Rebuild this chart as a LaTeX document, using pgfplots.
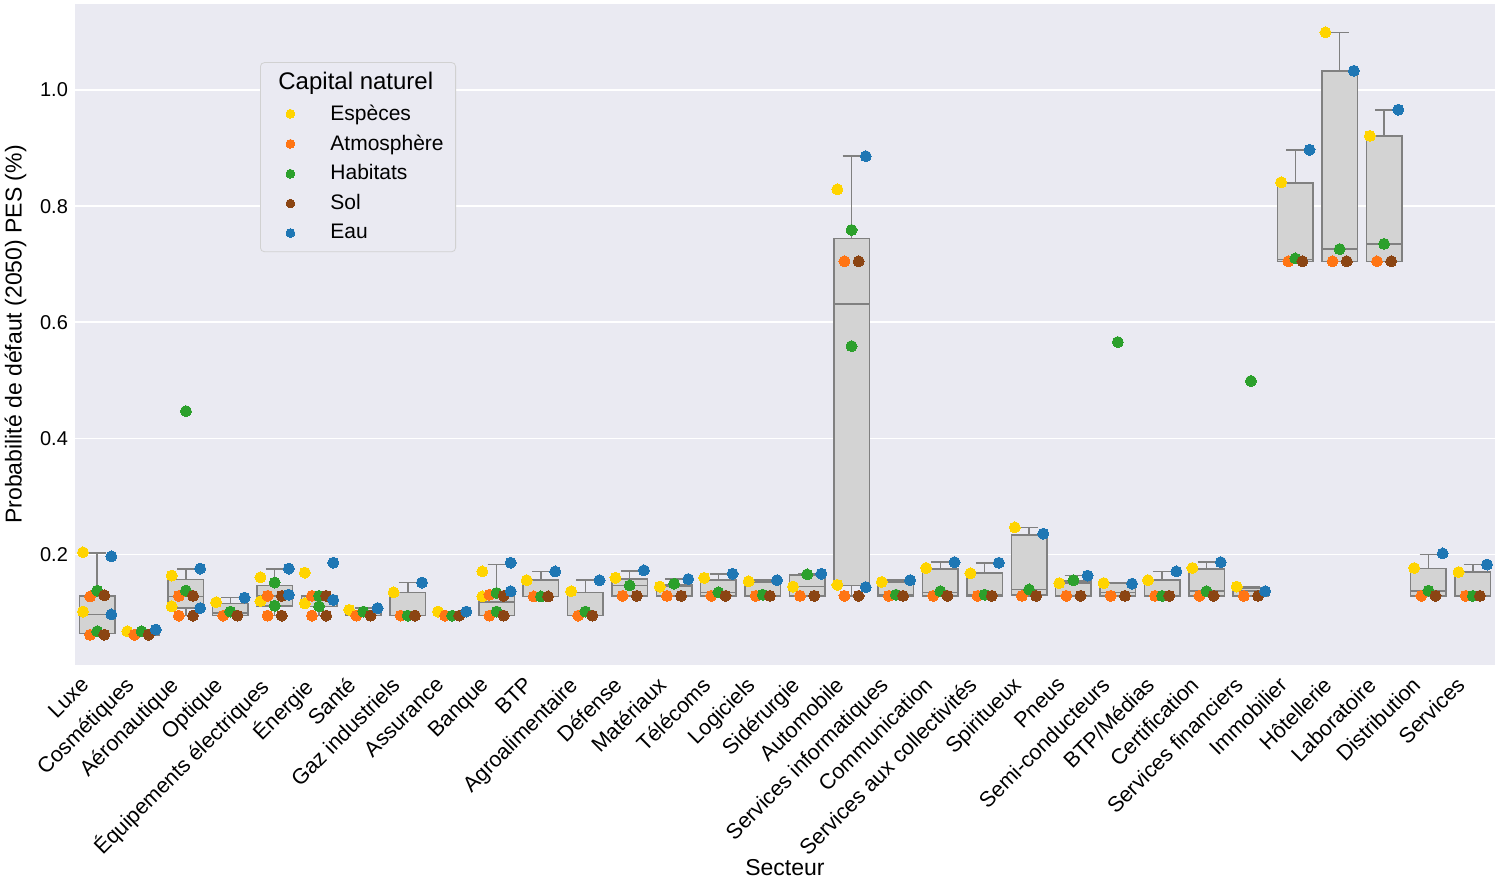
\documentclass[border=0pt]{standalone}
\usepackage{fontspec}
\setmainfont{Liberation Sans}
\usepackage{pgfplots}
\usepgfplotslibrary{statistics}
\pgfplotsset{compat=1.18}

\definecolor{bgc}{RGB}{234,234,242}
\definecolor{cyel}{RGB}{255,212,0}
\definecolor{cora}{RGB}{255,117,20}
\definecolor{cgre}{RGB}{44,160,44}
\definecolor{cbro}{RGB}{139,69,19}
\definecolor{cblu}{RGB}{31,119,180}
\definecolor{boxf}{RGB}{211,211,211}
\definecolor{boxe}{RGB}{128,128,128}

\newcommand{\bx}[6]{\addplot[forget plot, draw=boxe, fill=boxf, line width=0.8pt,
  boxplot prepared={draw direction=y, draw position=#1, lower whisker=#2, lower quartile=#3,
  median=#4, upper quartile=#5, upper whisker=#6, box extend=0.8, whisker extend=0.4}]
  coordinates {};}

\begin{document}
\begin{tikzpicture}
\begin{axis}[
  name=ax,
  scale only axis,
  width=710pt, height=330.5pt,
  xmin=-0.5, xmax=31.5, ymin=0.01, ymax=1.148,
  axis background/.style={fill=bgc},
  axis line style={draw=none},
  ymajorgrids, grid style={white, line width=0.8pt},
  major tick length=0pt,
  xtick={0,...,31},
  xticklabels={Luxe,Cosmétiques,Aéronautique,Optique,Équipements électriques,Énergie,Santé,Gaz industriels,Assurance,Banque,BTP,Agroalimentaire,Défense,Matériaux,Télécoms,Logiciels,Sidérurgie,Automobile,Services informatiques,Communication,Services aux collectivités,Spiritueux,Pneus,Semi-conducteurs,BTP/Médias,Certification,Services financiers,Immobilier,Hôtellerie,Laboratoire,Distribution,Services},
  xticklabel style={rotate=45, anchor=north east, font=\fontsize{10.8}{12}\selectfont, inner sep=1pt, xshift=-8.8pt, yshift=3.8pt},
  ytick={0.2,0.4,0.6,0.8,1.0},
  yticklabel style={font=\fontsize{10}{12}\selectfont},
  /pgf/number format/.cd, fixed, fixed zerofill, precision=1, assume math mode=true,
  /pgfplots/.cd,
  xlabel={Secteur},
  xlabel style={at={(axis description cs:0.5,0)}, anchor=center, yshift=-101.5pt},
  ylabel={Probabilité de défaut (2050) PES (\%)},
  label style={font=\fontsize{11.5}{13}\selectfont},
  legend style={at={(0.1303,0.912)}, anchor=north west, fill=bgc, draw=black!18,
    rounded corners=2pt, font=\fontsize{10.5}{12}\selectfont, row sep=1.8pt,
    inner xsep=4pt, inner ysep=3pt},
  legend cell align=left,
  legend image code/.code={\path[draw=none,fill=none] (0pt,-3pt) rectangle (29pt,3pt);
    \draw[mark repeat=2,mark phase=2,mark size=2.2pt,#1] plot coordinates {(0pt,0pt) (11pt,0pt) (22pt,0pt)};},
]
% boxes: pos, lw, q1, med, q3, uw
\bx{0}{0.062}{0.064}{0.097}{0.129}{0.203}
\bx{1}{0.062}{0.062}{0.066}{0.068}{0.071}
\bx{2}{0.095}{0.108}{0.128}{0.157}{0.175}
\bx{3}{0.095}{0.095}{0.100}{0.116}{0.126}
\bx{4}{0.095}{0.112}{0.129}{0.147}{0.175}
\bx{5}{0.095}{0.111}{0.122}{0.129}{0.129}
\bx{6}{0.095}{0.095}{0.100}{0.104}{0.108}
\bx{7}{0.095}{0.095}{0.095}{0.135}{0.152}
\bx{8}{0.095}{0.095}{0.095}{0.102}{0.102}
\bx{9}{0.095}{0.095}{0.118}{0.128}{0.183}
\bx{10}{0.128}{0.128}{0.128}{0.156}{0.171}
\bx{11}{0.095}{0.095}{0.095}{0.135}{0.156}
\bx{12}{0.129}{0.129}{0.147}{0.158}{0.172}
\bx{13}{0.129}{0.129}{0.145}{0.148}{0.158}
\bx{14}{0.129}{0.129}{0.135}{0.156}{0.167}
\bx{15}{0.129}{0.129}{0.129}{0.153}{0.156}
\bx{16}{0.129}{0.129}{0.145}{0.165}{0.167}
\bx{17}{0.129}{0.147}{0.631}{0.744}{0.886}
\bx{18}{0.129}{0.129}{0.131}{0.153}{0.156}
\bx{19}{0.129}{0.129}{0.135}{0.175}{0.187}
\bx{20}{0.129}{0.129}{0.131}{0.168}{0.186}
\bx{21}{0.129}{0.131}{0.140}{0.234}{0.247}
\bx{22}{0.129}{0.129}{0.151}{0.155}{0.164}
\bx{23}{0.129}{0.129}{0.135}{0.150}{0.151}
\bx{24}{0.129}{0.129}{0.129}{0.156}{0.171}
\bx{25}{0.129}{0.129}{0.137}{0.175}{0.187}
\bx{26}{0.129}{0.129}{0.137}{0.143}{0.145}
\bx{27}{0.705}{0.705}{0.708}{0.840}{0.897}
\bx{28}{0.705}{0.705}{0.726}{1.033}{1.099}
\bx{29}{0.705}{0.705}{0.735}{0.921}{0.966}
\bx{30}{0.129}{0.129}{0.137}{0.176}{0.200}
\bx{31}{0.129}{0.129}{0.129}{0.170}{0.183}

\addlegendimage{empty legend}
\addlegendentry{\hspace*{-26pt}\fontsize{12}{14}\selectfont Capital naturel}

\addplot[only marks, mark=*, mark size=2.75pt, color=cyel, mark options={draw=cyel, fill=cyel, line width=0pt}]
table[x expr=\thisrow{s}-0.32, y=v] {
s v
0 0.204
0 0.102
1 0.068
2 0.164
2 0.111
3 0.118
4 0.161
4 0.120
5 0.169
5 0.116
6 0.105
7 0.135
8 0.102
9 0.171
9 0.128
10 0.156
11 0.137
12 0.160
13 0.145
14 0.160
15 0.154
16 0.145
17 0.829
17 0.148
18 0.153
19 0.177
20 0.168
21 0.247
22 0.151
23 0.151
24 0.156
25 0.177
26 0.145
27 0.841
28 1.099
29 0.921
30 0.177
31 0.170
};
\addlegendentry{Espèces}

\addplot[only marks, mark=*, mark size=2.75pt, color=cora, mark options={draw=cora, fill=cora, line width=0pt}]
table[x expr=\thisrow{s}-0.16, y=v] {
s v
0 0.128
0 0.062
1 0.062
2 0.129
2 0.095
3 0.095
4 0.129
4 0.095
5 0.129
5 0.095
6 0.095
7 0.095
8 0.095
9 0.131
9 0.095
10 0.128
11 0.095
12 0.129
13 0.129
14 0.129
15 0.129
16 0.129
17 0.705
17 0.129
18 0.129
19 0.129
20 0.129
21 0.129
22 0.129
23 0.129
24 0.129
25 0.129
26 0.129
27 0.705
28 0.705
29 0.705
30 0.129
31 0.129
};
\addlegendentry{Atmosphère}

\addplot[only marks, mark=*, mark size=2.75pt, color=cgre, mark options={draw=cgre, fill=cgre, line width=0pt}]
table[x expr=\thisrow{s}, y=v] {
s v
0 0.138
0 0.068
1 0.068
2 0.447
2 0.138
3 0.102
4 0.152
4 0.112
5 0.129
5 0.111
6 0.102
7 0.095
8 0.095
9 0.134
9 0.102
10 0.128
11 0.102
12 0.147
13 0.150
14 0.135
15 0.131
16 0.166
17 0.759
17 0.559
18 0.131
19 0.137
20 0.131
21 0.140
22 0.156
23 0.566
24 0.129
25 0.137
26 0.499
27 0.710
28 0.726
29 0.735
30 0.138
31 0.129
};
\addlegendentry{Habitats}

\addplot[only marks, mark=*, mark size=2.75pt, color=cbro, mark options={draw=cbro, fill=cbro, line width=0pt}]
table[x expr=\thisrow{s}+0.16, y=v] {
s v
0 0.130
0 0.062
1 0.062
2 0.129
2 0.095
3 0.095
4 0.129
4 0.095
5 0.129
5 0.095
6 0.095
7 0.095
8 0.095
9 0.129
9 0.095
10 0.128
11 0.095
12 0.129
13 0.129
14 0.129
15 0.129
16 0.129
17 0.705
17 0.129
18 0.129
19 0.129
20 0.129
21 0.129
22 0.129
23 0.129
24 0.129
25 0.129
26 0.129
27 0.705
28 0.705
29 0.705
30 0.129
31 0.129
};
\addlegendentry{Sol}

\addplot[only marks, mark=*, mark size=2.75pt, color=cblu, mark options={draw=cblu, fill=cblu, line width=0pt}]
table[x expr=\thisrow{s}+0.32, y=v] {
s v
0 0.197
0 0.097
1 0.071
2 0.176
2 0.108
3 0.126
4 0.176
4 0.131
5 0.186
5 0.122
6 0.108
7 0.152
8 0.102
9 0.186
9 0.137
10 0.171
11 0.156
12 0.173
13 0.158
14 0.167
15 0.156
16 0.167
17 0.886
17 0.144
18 0.156
19 0.187
20 0.186
21 0.236
22 0.164
23 0.150
24 0.171
25 0.187
26 0.137
27 0.897
28 1.033
29 0.966
30 0.202
31 0.183
};
\addlegendentry{Eau}
\end{axis}
\pgfresetboundingbox
\path[use as bounding box] ([xshift=-37.5pt,yshift=-113pt]ax.south west) rectangle ([xshift=3pt,yshift=2pt]ax.north east);
\end{tikzpicture}
\end{document}
